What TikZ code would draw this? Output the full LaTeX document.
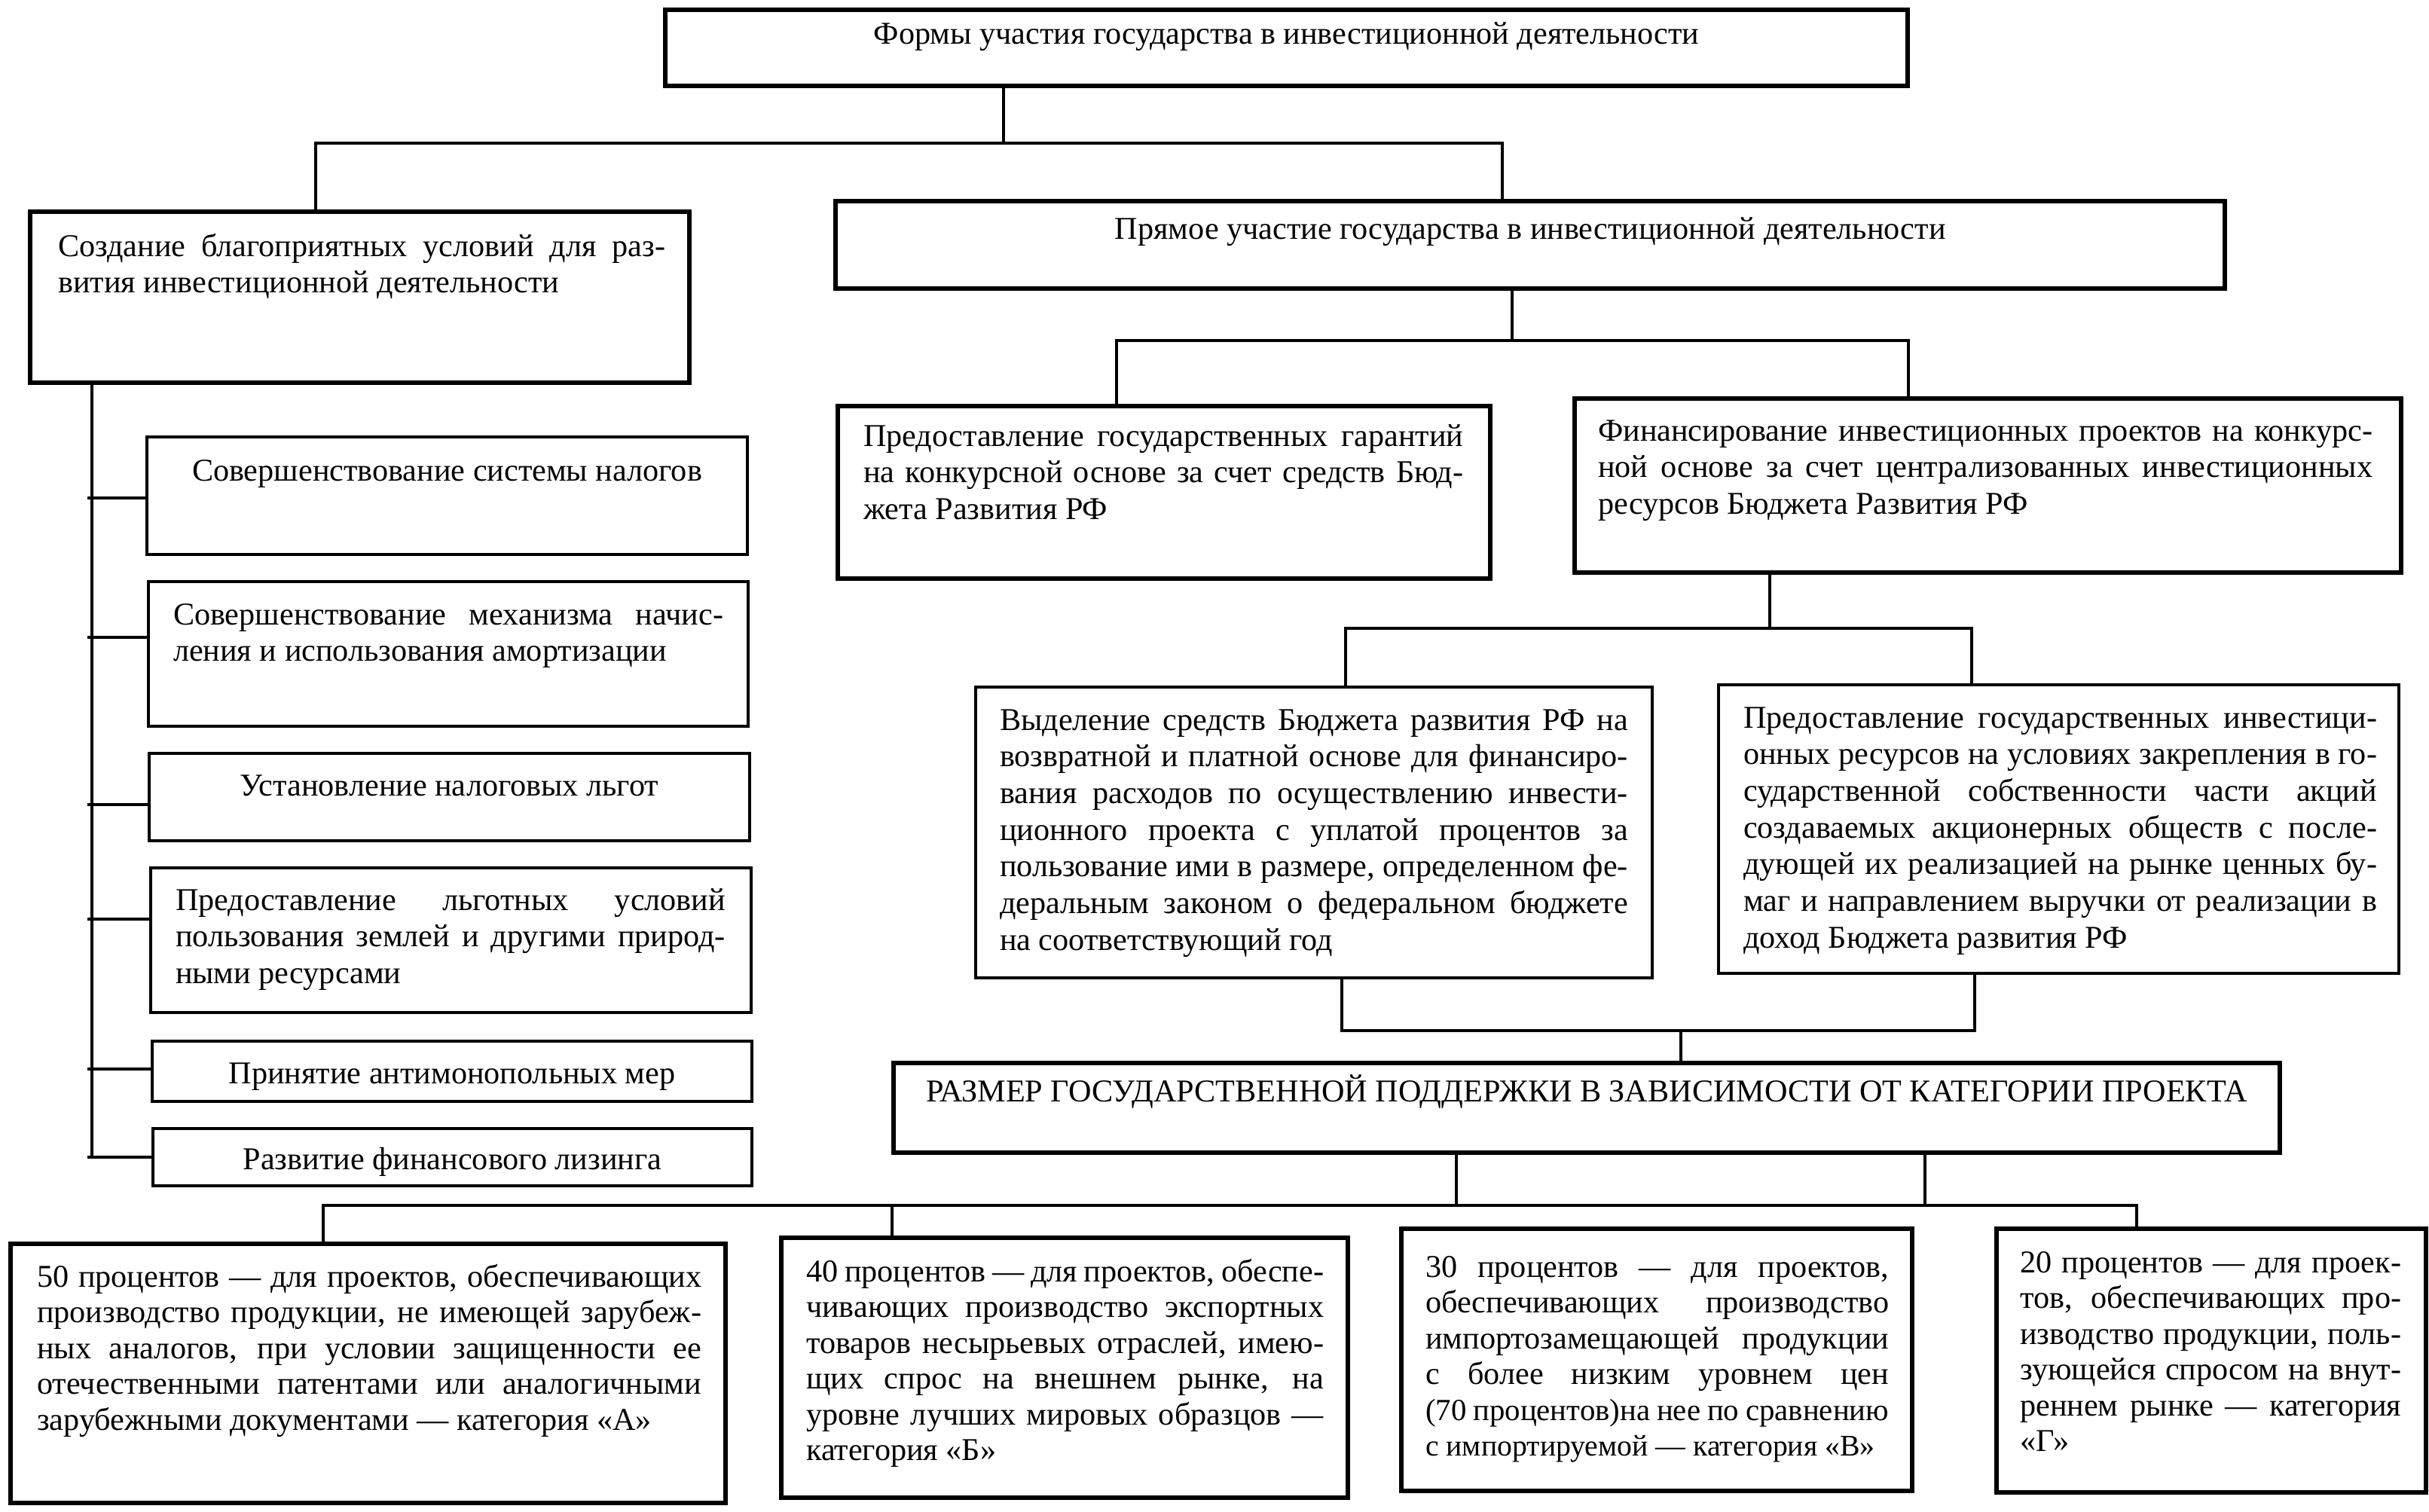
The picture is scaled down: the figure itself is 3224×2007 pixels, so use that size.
\documentclass[tikz,border=0pt]{standalone}
\usepackage{fontspec}
\setmainfont{Liberation Serif}
\newlength\un \setlength\un{0.01cm}
\newcommand\mystrut{\rule{0pt}{34\un}}
\newcommand\myJ[1]{\hbox to \linewidth{\mystrut #1}}
\newcommand\myL[1]{\hbox to \linewidth{\mystrut #1\hfil}}
\newcommand\myC[1]{\hbox to \linewidth{\hfil\mystrut #1\hfil}}
% #1 W, #2 H, #3 left pad, #4 top pad, #5 text width, #6 lines
\newcommand\cell[6]{\parbox[c][#2\un][t]{#1\un}{\vspace*{#4\un}\hspace*{#3\un}\parbox[t]{#5\un}{#6}}}
\tikzset{
  thickbox/.style={draw, line width=1.8pt, inner sep=0pt, anchor=north west, font=\fontsize{12pt}{13.85pt}\selectfont},
  thinbox/.style={thickbox, line width=1.15pt},
  lowbox/.style={thickbox, font=\fontsize{12pt}{13.5pt}\selectfont},
  conn/.style={line width=0.9pt},
}
\begin{document}
\begin{tikzpicture}[x=0.01cm,y=0.01cm]
\path[fill=white] (0,0) rectangle (3224,-2007);
\useasboundingbox (0,0) rectangle (3224,-2007);

% top levels
\node[thickbox] (T) at (880,-10) {\cell{1649}{101}{0}{11}{1649}{\myC{Формы участия государства в инвестиционной деятельности}}};
\node[thickbox] (C) at (37,-278) {\cell{875}{227}{37}{25}{806}{%
\myJ{Создание благоприятных условий для раз-}
\myL{вития инвестиционной деятельности}}};
\node[thickbox] (P) at (1106,-264) {\cell{1844}{116}{0}{16}{1844}{\myC{Прямое участие государства в инвестиционной деятельности}}};

% left column
\node[thinbox] (L1) at (193,-578) {\cell{797}{156}{0}{24}{797}{\myC{Совершенствование системы налогов}}};
\node[thinbox] (L2) at (195,-770) {\cell{796}{192}{33}{23}{730}{%
\myJ{Совершенствование механизма начис-}
\myL{ления и использования амортизации}}};
\node[thinbox] (L3) at (196,-998) {\cell{797}{116}{0}{22}{797}{\myC{Установление налоговых льгот}}};
\node[thinbox] (L4) at (198,-1150) {\cell{797}{192}{33}{22}{730}{%
\myJ{Предоставление льготных условий}
\myJ{пользования землей и другими природ-}
\myL{ными ресурсами}}};
\node[thinbox] (L5) at (200,-1380) {\cell{796}{80}{0}{22}{796}{\myC{Принятие антимонопольных мер}}};
\node[thinbox] (L6) at (201,-1496) {\cell{795}{76}{0}{20}{795}{\myC{Развитие финансового лизинга}}};

% direct participation
\node[thickbox] (G) at (1109,-536) {\cell{866}{229}{34}{19}{796}{%
\myJ{Предоставление государственных гарантий}
\myJ{на конкурсной основе за счет средств Бюд-}
\myL{жета Развития РФ}}};
\node[thickbox] (F) at (2087,-526) {\cell{1097}{231}{31}{22}{1028}{%
\myJ{Финансирование инвестиционных проектов на конкурс-}
\myJ{ной основе за счет централизованных инвестиционных}
\myL{ресурсов Бюджета Развития РФ}}};
\node[thinbox] (V) at (1293,-910) {\cell{898}{386}{32}{23}{834}{%
\myJ{Выделение средств Бюджета развития РФ на}
\myJ{возвратной и платной основе для финансиро-}
\myJ{вания расходов по осуществлению инвести-}
\myJ{ционного проекта с уплатой процентов за}
\myJ{пользование ими в размере, определенном фе-}
\myJ{деральным законом о федеральном бюджете}
\myL{на соответствующий год}}};
\node[thinbox] (I) at (2279,-907) {\cell{903}{383}{33}{23}{841}{%
\myJ{Предоставление государственных инвестици-}
\myJ{онных ресурсов на условиях закрепления в го-}
\myJ{сударственной собственности части акций}
\myJ{создаваемых акционерных обществ с после-}
\myJ{дующей их реализацией на рынке ценных бу-}
\myJ{маг и направлением выручки от реализации в}
\myL{доход Бюджета развития РФ}}};
\node[thickbox] (R) at (1183,-1408) {\cell{1840}{119}{0}{16}{1840}{\myC{РАЗМЕР ГОСУДАРСТВЕННОЙ ПОДДЕРЖКИ В ЗАВИСИМОСТИ ОТ КАТЕГОРИИ ПРОЕКТА}}};

% bottom row
\node[lowbox] (B1) at (11,-1648) {\cell{949}{344}{35}{23}{882}{%
\myJ{50 процентов — для проектов, обеспечивающих}
\myJ{производство продукции, не имеющей зарубеж-}
\myJ{ных аналогов, при условии защищенности ее}
\myJ{отечественными патентами или аналогичными}
\myL{зарубежными документами — категория «А»}}};
\node[lowbox] (B2) at (1034,-1640) {\cell{752}{345}{33}{24}{687}{%
\myJ{40 процентов — для проектов, обеспе-}
\myJ{чивающих производство экспортных}
\myJ{товаров несырьевых отраслей, имею-}
\myJ{щих спрос на внешнем рынке, на}
\myJ{уровне лучших мировых образцов —}
\myL{категория «Б»}}};
\node[lowbox] (B3) at (1857,-1628) {\cell{678}{348}{32}{30}{615}{%
\myJ{30 процентов — для проектов,}
\myJ{обеспечивающих производство}
\myJ{импортозамещающей продукции}
\myJ{с более низким уровнем цен}
\myJ{\fontsize{11.6pt}{13.5pt}\selectfont(70 процентов)на нее по сравнению}
\myL{\fontsize{11.3pt}{13.5pt}\selectfont с импортируемой — категория «В»}}};
\node[lowbox] (B4) at (2647,-1628) {\cell{570}{350}{31}{24}{506}{%
\myJ{20 процентов — для проек-}
\myJ{тов, обеспечивающих про-}
\myJ{изводство продукции, поль-}
\myJ{зующейся спросом на внут-}
\myJ{реннем рынке — категория}
\myL{«Г»}}};

% connectors: top
\coordinate (a1) at (1332,-190);
\coordinate (a2) at (419,-190);
\coordinate (a3) at (1994,-190);
\draw[conn] (T.south -| a1) -- (a1);
\draw[conn] (C.north -| a2) -- (a2) -- (a3) -- (P.north -| a3);

\coordinate (b1) at (2007,-452);
\coordinate (b2) at (1482,-452);
\coordinate (b3) at (2533,-452);
\draw[conn] (P.south -| b1) -- (b1);
\draw[conn] (G.north -| b2) -- (b2) -- (b3) -- (F.north -| b3);

\coordinate (c1) at (2349,-834);
\coordinate (c2) at (1786,-834);
\coordinate (c3) at (2617,-834);
\draw[conn] (F.south -| c1) -- (c1);
\draw[conn] (V.north -| c2) -- (c2) -- (c3) -- (I.north -| c3);

\coordinate (d1) at (2231,-1368);
\coordinate (d2) at (1781,-1368);
\coordinate (d3) at (2621,-1368);
\draw[conn] (V.south -| d2) -- (d2) -- (d3) -- (I.south -| d3);
\draw[conn] (d1) -- (R.north -| d1);

\coordinate (e1) at (1933,-1600);
\coordinate (e2) at (2555,-1600);
\coordinate (e3) at (429,-1600);
\coordinate (e4) at (1184,-1600);
\coordinate (e5) at (2836,-1600);
\draw[conn] (R.south -| e1) -- (e1);
\draw[conn] (R.south -| e2) -- (e2);
\draw[conn] (B1.north -| e3) -- (e3) -- (e5) -- (B4.north -| e5);
\draw[conn] (e4) -- (B2.north -| e4);

% left spine
\coordinate (s0) at (122,-505);
\coordinate (s6) at (122,-1536);
\draw[conn] (C.south -| s0) -- (s6);
\coordinate (t1) at (116,-661);
\coordinate (t2) at (116,-846);
\coordinate (t3) at (116,-1068);
\coordinate (t4) at (116,-1220);
\coordinate (t5) at (116,-1419);
\coordinate (t6) at (116,-1536);
\draw[conn] (t1) -- (L1.west |- t1);
\draw[conn] (t2) -- (L2.west |- t2);
\draw[conn] (t3) -- (L3.west |- t3);
\draw[conn] (t4) -- (L4.west |- t4);
\draw[conn] (t5) -- (L5.west |- t5);
\draw[conn] (t6) -- (L6.west |- t6);
\end{tikzpicture}
\end{document}
